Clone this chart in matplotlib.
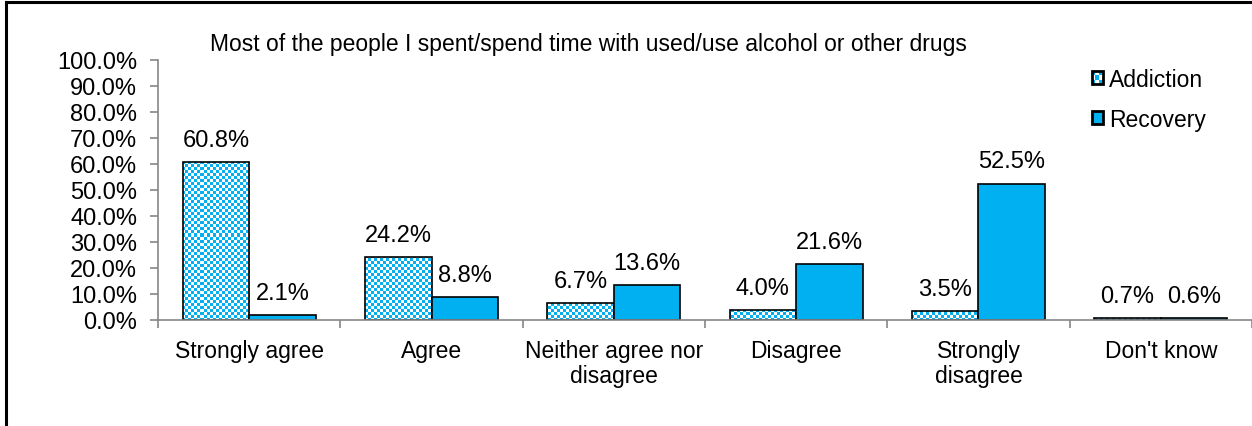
import numpy as np
import matplotlib
matplotlib.use("Agg")
import matplotlib.pyplot as plt
from matplotlib.colors import ListedColormap
from matplotlib.lines import Line2D
from matplotlib.patches import Patch
from matplotlib.legend_handler import HandlerPatch

categories = ["Strongly agree", "Agree", "Neither agree nor\ndisagree", "Disagree",
              "Strongly\ndisagree", "Don't know"]
addiction = [60.8, 24.2, 6.7, 4.0, 3.5, 0.7]
recovery = [2.1, 8.8, 13.6, 21.6, 52.5, 0.6]
series = ["Addiction", "Recovery"]
title = "Most of the people I spent/spend time with used/use alcohol or other drugs"

CYAN = "#00B0F0"
AXC = "#868686"
FS = 16.5
plt.rcParams["font.family"] = ["Liberation Sans", "DejaVu Sans"]

fig = plt.figure(figsize=(12.52, 4.27), dpi=100)
ax = fig.add_axes([158/1252, 1-321/427, 1-158/1252, 260/427])

x = np.arange(len(categories))
w = 0.365
b1 = ax.bar(x - w/2, addiction, w, color="none", edgecolor="black", linewidth=1.2, zorder=3)
b2 = ax.bar(x + w/2, recovery, w, color=CYAN, edgecolor="black", linewidth=1.2, zorder=3)

ax.set_xlim(-0.5, len(categories) - 0.5)
ax.set_ylim(0, 100)

# checkerboard fill (3 px cells) for the addiction bars
hpx, wpx = 260, 1094
ii, jj = np.mgrid[0:hpx, 0:wpx]
chk = (((ii // 3) + (jj // 3)) % 2).astype(float)
cmap = ListedColormap([CYAN, "white"])
for bar in b1:
    im = ax.imshow(chk, cmap=cmap, extent=(-0.5, len(categories) - 0.5, 0, 100),
                   aspect="auto", interpolation="nearest", zorder=2.5)
    im.set_clip_path(bar)

for bars, vals in [(b1, addiction), (b2, recovery)]:
    for bar, v in zip(bars, vals):
        ax.annotate(f"{v:.1f}%", (bar.get_x() + bar.get_width()/2, v),
                    xytext=(0, 11), textcoords="offset pixels", ha="center", va="bottom",
                    fontsize=17, color="black")

yt = np.arange(0, 101, 10)
ax.set_yticks(yt)
ax.set_yticklabels([f"{t:.1f}%" for t in yt], fontsize=17)
ax.set_xticks(np.arange(len(categories) + 1) - 0.5)
ax.set_xticklabels([])
ax.set_xticks(x, minor=True)
ax.set_xticklabels(categories, minor=True, fontsize=FS, linespacing=1.1)
ax.tick_params(axis="x", which="minor", length=0, pad=14)
ax.tick_params(axis="x", which="major", length=6, color=AXC, width=1.2)
ax.tick_params(axis="y", length=6, color=AXC, width=1.2, pad=9)
for s in ["top", "right"]:
    ax.spines[s].set_visible(False)
for s in ["left", "bottom"]:
    ax.spines[s].set_color(AXC)
    ax.spines[s].set_linewidth(1.2)
    ax.spines[s].set_zorder(4)

fig.text(210/1252, 1-45/427, title, fontsize=16.5, ha="left", va="center")


class CheckerHandler(HandlerPatch):
    def create_artists(self, legend, orig, xd, yd, width, height, fontsize, trans):
        out = []
        n = 3
        for r in range(n):
            for c in range(n):
                col = CYAN if (r + c) % 2 == 0 else "white"
                out.append(plt.Rectangle((-xd + c*width/n, -yd + r*height/n), width/n, height/n,
                                         facecolor=col, edgecolor="none", transform=trans))
        out.append(plt.Rectangle((-xd, -yd), width, height, facecolor="none",
                                 edgecolor="black", linewidth=2, transform=trans))
        return out


handles = [Patch(facecolor="white", edgecolor="black"),
           Patch(facecolor=CYAN, edgecolor="black", linewidth=2)]
fig.legend(handles, series, loc="upper left", bbox_to_anchor=(1071/1252, 1-48/427),
           frameon=False, fontsize=16.5, handlelength=0.5, handleheight=0.5,
           handletextpad=0.25, labelspacing=0.75,
           handler_map={handles[0]: CheckerHandler()})

# chart border
fig.add_artist(Line2D([6/1252, 6/1252], [0, 1-3/427], color="black", lw=2.2))
fig.add_artist(Line2D([6/1252, 1], [1-3/427, 1-3/427], color="black", lw=2.2))

fig.savefig("out.png", dpi=100, facecolor="white")
